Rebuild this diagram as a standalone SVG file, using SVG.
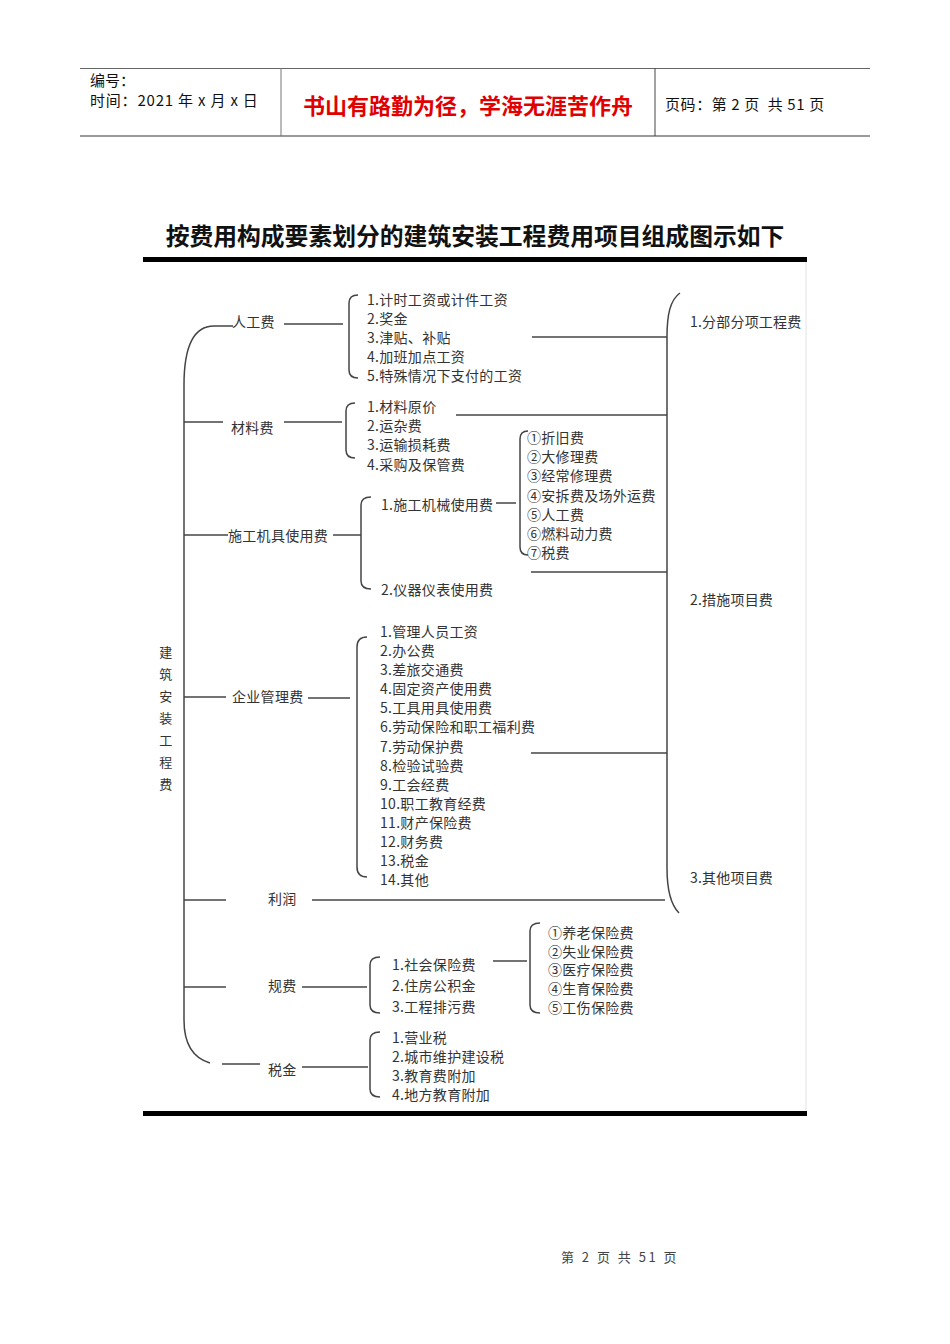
<svg xmlns="http://www.w3.org/2000/svg" width="950" height="1344" viewBox="0 0 950 1344">
<style>
text{font-family:"Noto Sans CJK SC","Noto Sans",sans-serif;fill:#333;dominant-baseline:central}
.it{font-size:14px;letter-spacing:0.3px}
.lb{font-size:14px;letter-spacing:0.3px}
.rl{font-size:14px;letter-spacing:0.2px}
.hd{font-size:15px;fill:#111}
.ln{fill:none;stroke:#444;stroke-width:1.5}
</style>
<rect width="950" height="1344" fill="#fff"/>
<g id="header">
<line x1="80" y1="68.5" x2="870" y2="68.5" stroke="#666" stroke-width="1"/>
<line x1="80" y1="136" x2="870" y2="136" stroke="#999" stroke-width="2"/>
<line x1="281" y1="68" x2="281" y2="136" stroke="#777" stroke-width="1"/>
<line x1="655" y1="68" x2="655" y2="136" stroke="#444" stroke-width="1"/>
<text class="hd" x="90" y="79">编号：</text>
<text class="hd" x="90" y="99" style="letter-spacing:0.8px">时间：2021 年 x 月 x 日</text>
<text x="468" y="104" text-anchor="middle" style="font-size:22px;fill:#e00000;font-weight:bold">书山有路勤为径，学海无涯苦作舟</text>
<text class="hd" x="665" y="103" style="letter-spacing:0.6px" xml:space="preserve">页码：第 2 页  共 51 页</text>
</g>
<text id="title" x="475" y="234" text-anchor="middle" style="font-size:23.8px;font-weight:bold;fill:#111">按费用构成要素划分的建筑安装工程费用项目组成图示如下</text>
<rect x="143" y="257" width="664" height="5" fill="#000"/>
<rect x="143" y="1111" width="664" height="5" fill="#000"/>
<line x1="806" y1="262" x2="806" y2="1111" stroke="#e2e2e2" stroke-width="1"/>

<g id="connectors">
<path class="ln" d="M210 1063 C193 1058 184 1045 184 1020 L184 385 C184 345 195 326 214 326 L233 326"/>
<line class="ln" x1="222" y1="1064" x2="260" y2="1064"/>
<line class="ln" x1="284" y1="324" x2="343" y2="324"/>
<path class="ln" d="M358 295 Q349 295 349 303 L349 370 Q349 378 358 378"/>
<line class="ln" x1="532" y1="337" x2="667" y2="337"/>
<line class="ln" x1="184" y1="422" x2="223" y2="422"/>
<line class="ln" x1="284" y1="422" x2="342" y2="422"/>
<path class="ln" d="M355 403 Q346 403 346 411 L346 450 Q346 458 355 458"/>
<line class="ln" x1="456" y1="415" x2="667" y2="415"/>
<line class="ln" x1="184" y1="535" x2="228" y2="535"/>
<line class="ln" x1="333" y1="535" x2="361" y2="535"/>
<path class="ln" d="M371 497 Q361 497 361 505 L361 581 Q361 589 371 589"/>
<line class="ln" x1="496" y1="503" x2="516" y2="503"/>
<path class="ln" d="M528 431 Q520 431 520 439 L520 547 Q520 555 528 555"/>
<line class="ln" x1="531" y1="572" x2="667" y2="572"/>
<line class="ln" x1="184" y1="697" x2="226" y2="697"/>
<line class="ln" x1="308" y1="698" x2="350" y2="698"/>
<path class="ln" d="M367 637 Q357 637 357 647 L357 867 Q357 877 367 877"/>
<line class="ln" x1="531" y1="753" x2="667" y2="753"/>
<line class="ln" x1="184" y1="900" x2="226" y2="900"/>
<line class="ln" x1="312" y1="900" x2="665" y2="900"/>
<line class="ln" x1="184" y1="987" x2="226" y2="987"/>
<line class="ln" x1="302" y1="987" x2="367" y2="987"/>
<path class="ln" d="M380 957 Q370 957 370 965 L370 1005 Q370 1013 380 1013"/>
<line class="ln" x1="493" y1="961" x2="527" y2="961"/>
<path class="ln" d="M540 923 Q530 923 530 931 L530 1005 Q530 1013 540 1013"/>
<line class="ln" x1="302" y1="1067" x2="368" y2="1067"/>
<path class="ln" d="M380 1032 Q370 1032 370 1040 L370 1089 Q370 1097 380 1097"/>
<path class="ln" d="M680 293 C670 300 667 315 667 337 L667 868 C667 892 671 905 679 913"/>
</g>

<g id="root" class="lb">
<text x="166" y="651" text-anchor="middle" style="font-size:13px">建</text>
<text x="166" y="673" text-anchor="middle" style="font-size:13px">筑</text>
<text x="166" y="695" text-anchor="middle" style="font-size:13px">安</text>
<text x="166" y="717" text-anchor="middle" style="font-size:13px">装</text>
<text x="166" y="739" text-anchor="middle" style="font-size:13px">工</text>
<text x="166" y="761" text-anchor="middle" style="font-size:13px">程</text>
<text x="166" y="783" text-anchor="middle" style="font-size:13px">费</text>
</g>

<g id="n-rengong">
<text class="lb" x="232" y="321">人工费</text>
<text class="it" x="367" y="299">1.计时工资或计件工资</text>
<text class="it" x="367" y="318">2.奖金</text>
<text class="it" x="367" y="337">3.津贴、补贴</text>
<text class="it" x="367" y="356">4.加班加点工资</text>
<text class="it" x="367" y="375">5.特殊情况下支付的工资</text>
</g>

<g id="n-cailiao">
<text class="lb" x="231" y="427">材料费</text>
<text class="it" x="367" y="406">1.材料原价</text>
<text class="it" x="367" y="425">2.运杂费</text>
<text class="it" x="367" y="444">3.运输损耗费</text>
<text class="it" x="367" y="464">4.采购及保管费</text>
</g>

<g id="n-jiju">
<text class="lb" x="228" y="535">施工机具使用费</text>
<text class="it" x="381" y="504">1.施工机械使用费</text>
<text class="it" x="381" y="589">2.仪器仪表使用费</text>
</g>

<g id="n-jixie">
<text class="it" x="527" y="437">①折旧费</text>
<text class="it" x="527" y="456">②大修理费</text>
<text class="it" x="527" y="475">③经常修理费</text>
<text class="it" x="527" y="495">④安拆费及场外运费</text>
<text class="it" x="527" y="514">⑤人工费</text>
<text class="it" x="527" y="533">⑥燃料动力费</text>
<text class="it" x="527" y="552">⑦税费</text>
</g>

<g id="n-qiye">
<text class="lb" x="232" y="696">企业管理费</text>
<text class="it" x="380" y="631">1.管理人员工资</text>
<text class="it" x="380" y="650">2.办公费</text>
<text class="it" x="380" y="669">3.差旅交通费</text>
<text class="it" x="380" y="688">4.固定资产使用费</text>
<text class="it" x="380" y="707">5.工具用具使用费</text>
<text class="it" x="380" y="726">6.劳动保险和职工福利费</text>
<text class="it" x="380" y="746">7.劳动保护费</text>
<text class="it" x="380" y="765">8.检验试验费</text>
<text class="it" x="380" y="784">9.工会经费</text>
<text class="it" x="380" y="803">10.职工教育经费</text>
<text class="it" x="380" y="822">11.财产保险费</text>
<text class="it" x="380" y="841">12.财务费</text>
<text class="it" x="380" y="860">13.税金</text>
<text class="it" x="380" y="879">14.其他</text>
</g>

<g id="n-lirun">
<text class="lb" x="268" y="898">利润</text>
</g>

<g id="n-guifei">
<text class="lb" x="268" y="985">规费</text>
<text class="it" x="392" y="964">1.社会保险费</text>
<text class="it" x="392" y="985">2.住房公积金</text>
<text class="it" x="392" y="1006">3.工程排污费</text>
</g>

<g id="n-shebao">
<text class="it" x="548" y="932">①养老保险费</text>
<text class="it" x="548" y="951">②失业保险费</text>
<text class="it" x="548" y="969">③医疗保险费</text>
<text class="it" x="548" y="988">④生育保险费</text>
<text class="it" x="548" y="1007">⑤工伤保险费</text>
</g>

<g id="n-shuijin">
<text class="lb" x="268" y="1069">税金</text>
<text class="it" x="392" y="1037">1.营业税</text>
<text class="it" x="392" y="1056">2.城市维护建设税</text>
<text class="it" x="392" y="1075">3.教育费附加</text>
<text class="it" x="392" y="1094">4.地方教育附加</text>
</g>

<g id="n-right">
<text class="rl" x="690" y="321">1.分部分项工程费</text>
<text class="rl" x="690" y="599">2.措施项目费</text>
<text class="rl" x="690" y="877">3.其他项目费</text>
</g>

<text id="footer" x="620" y="1256" text-anchor="middle" style="font-size:13px;fill:#444;letter-spacing:2.5px">第 2 页 共 51 页</text>
</svg>
